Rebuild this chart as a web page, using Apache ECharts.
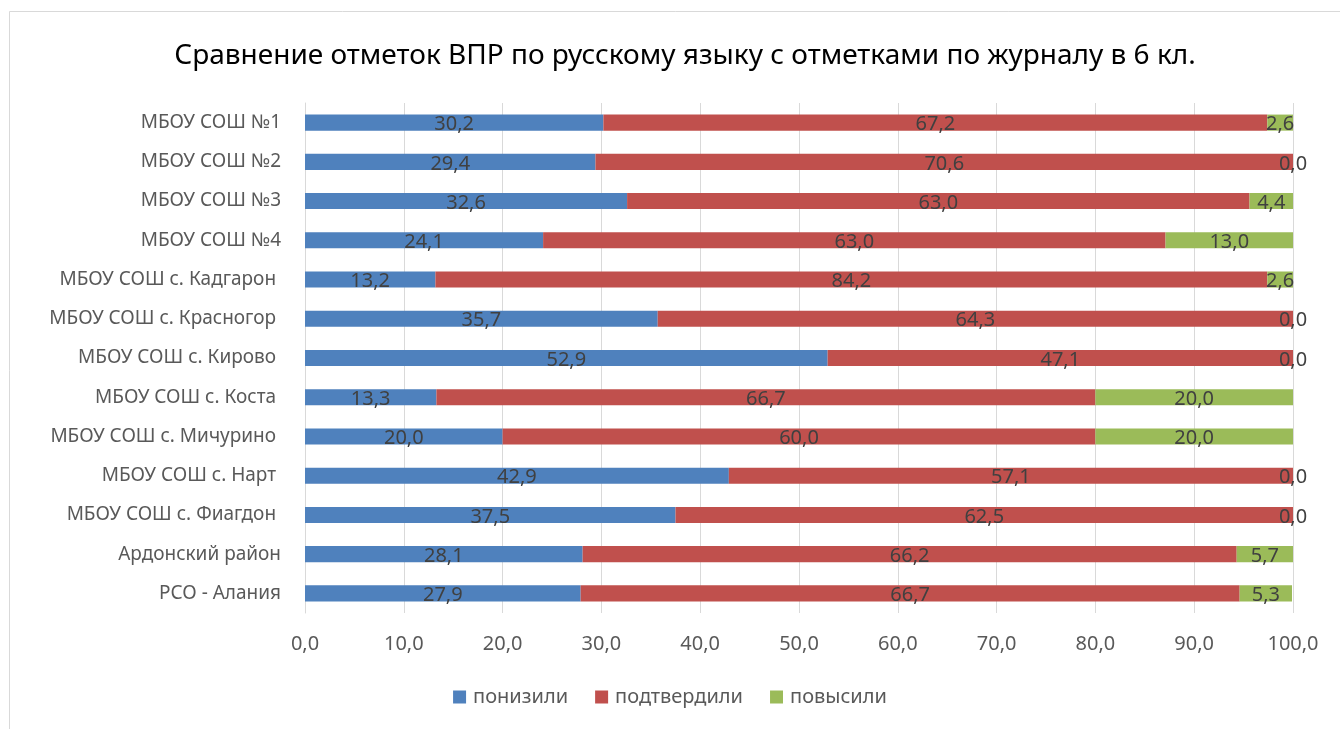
<!DOCTYPE html>
<html lang="ru" style="height: 100%">
<head>
  <meta charset="utf-8">
</head>
<body style="height: 100%; margin: 0; background: #fff">
  <div id="container" style="width: 1340px; height: 729px"></div>
  <script type="text/javascript" src="https://fastly.jsdelivr.net/npm/echarts@6.0.0/dist/echarts.min.js"></script>
  <script type="text/javascript">
    const schools = [
      'МБОУ СОШ №1',
      'МБОУ СОШ №2',
      'МБОУ СОШ №3',
      'МБОУ СОШ №4',
      'МБОУ СОШ с. Кадгарон ',
      'МБОУ СОШ с. Красногор ',
      'МБОУ СОШ с. Кирово ',
      'МБОУ СОШ с. Коста ',
      'МБОУ СОШ с. Мичурино ',
      'МБОУ СОШ с. Нарт ',
      'МБОУ СОШ с. Фиагдон ',
      'Ардонский район',
      'РСО - Алания'
    ];
    const lowered = [30.2, 29.4, 32.6, 24.1, 13.2, 35.7, 52.9, 13.3, 20.0, 42.9, 37.5, 28.1, 27.9];
    const confirmed = [67.2, 70.6, 63.0, 63.0, 84.2, 64.3, 47.1, 66.7, 60.0, 57.1, 62.5, 66.2, 66.7];
    const raised = [2.6, 0.0, 4.4, 13.0, 2.6, 0.0, 0.0, 20.0, 20.0, 0.0, 0.0, 5.7, 5.3];

    const font = 'Noto Sans';
    const fmt = function (v) {
      return Number(v).toFixed(1).replace('.', ',');
    };

    var dom = document.getElementById('container');
    var myChart = echarts.init(dom, null, { renderer: 'canvas' });

    function makeSeries(name, data, color) {
      return {
        name: name,
        type: 'bar',
        stack: 'total',
        data: data,
        barCategoryGap: '59%',
        itemStyle: { color: color },
        label: {
          show: true,
          position: 'inside',
          offset: [0, 2],
          color: '#404040',
          fontSize: 20,
          fontFamily: font,
          formatter: function (p) { return fmt(p.value); }
        }
      };
    }

    var option = {
      animation: false,
      backgroundColor: '#fff',
      textStyle: { fontFamily: font },
      title: {
        text: 'Сравнение отметок ВПР по русскому языку с отметками по журналу в 6 кл.',
        left: 680,
        textAlign: 'center',
        top: 37,
        textStyle: { fontSize: 28, fontWeight: 'normal', color: '#000', fontFamily: font }
      },
      graphic: [{
        type: 'rect',
        shape: { x: 9.5, y: 11.5, width: 1340, height: 730 },
        style: { fill: 'none', stroke: '#d9d9d9', lineWidth: 1 },
        silent: true
      }],
      legend: {
        bottom: 17,
        left: 'center',
        itemWidth: 13,
        itemHeight: 13,
        itemGap: 27,
        icon: 'rect',
        textStyle: { fontSize: 20, color: '#595959', fontFamily: font, padding: [0, 0, 0, 2] },
        data: ['понизили', 'подтвердили', 'повысили']
      },
      grid: { left: 305, right: 47, top: 103, bottom: 116 },
      xAxis: {
        type: 'value',
        min: 0,
        max: 100,
        interval: 10,
        axisLine: { show: false },
        axisTick: { show: false },
        splitLine: { lineStyle: { color: '#d9d9d9', width: 1 } },
        axisLabel: {
          color: '#595959',
          fontSize: 20,
          margin: 21,
          fontFamily: font,
          formatter: fmt
        }
      },
      yAxis: {
        type: 'category',
        inverse: true,
        data: schools,
        axisLine: { show: true, lineStyle: { color: '#d9d9d9' } },
        axisTick: { show: false },
        axisLabel: { color: '#595959', fontSize: 19, margin: 24, fontFamily: font }
      },
      series: [
        makeSeries('понизили', lowered, '#4f81bd'),
        makeSeries('подтвердили', confirmed, '#c0504d'),
        makeSeries('повысили', raised, '#9bbb59')
      ]
    };

    myChart.setOption(option);
    window.addEventListener('resize', myChart.resize);
  </script>
</body>
</html>
